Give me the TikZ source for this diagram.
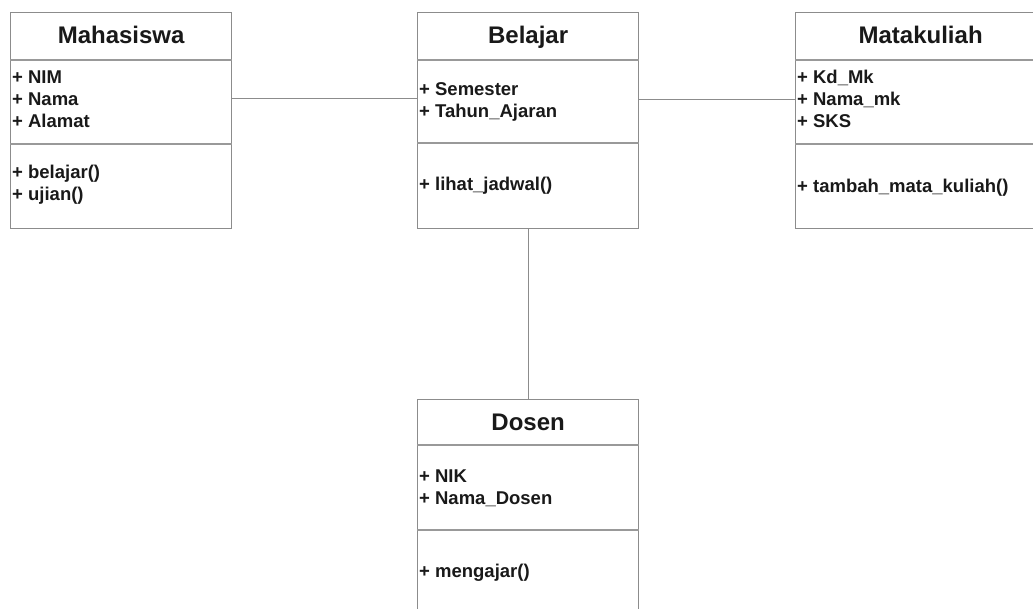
\documentclass[tikz,border=0pt]{standalone}
\usepackage{fontspec}
\setmainfont{Liberation Sans}
\usetikzlibrary{positioning}

\def\boxw{221}
\def\boxh{216}

\tikzset{
	classbox/.style={draw=black!45, line width=1.3pt, inner sep=0pt, minimum width=\boxw pt, minimum height=\boxh pt, anchor=north west},
	divider/.style={draw=black!40, line width=1.3pt},
	conn/.style={draw=black!45, line width=1.2pt},
	classname/.style={anchor=base, inner sep=0pt, text=black!90, font=\bfseries\fontsize{24}{28}\selectfont},
	member/.style={anchor=base west, inner sep=0pt, text=black!90, font=\bfseries\fontsize{18.5}{22}\selectfont},
}

\begin{document}
\begin{tikzpicture}[x=1pt, y=-1pt]

	\useasboundingbox (0,0) rectangle (1033,608);
	\clip (0,0) rectangle (1033,608);

	%%% Mahasiswa
	\node[classbox] (mhs) at (10,12) {};
	\draw[divider] (mhs.west |- 0,60) -- (mhs.east |- 0,60);
	\draw[divider] (mhs.west |- 0,144) -- (mhs.east |- 0,144);
	\node[classname] (mhs-name) at (mhs.north |- 0,43) {Mahasiswa};
	\node[member] (mhs-a1) at (12,83) {+ NIM};
	\node[member] (mhs-a2) at (12,105) {+ Nama};
	\node[member] (mhs-a3) at (12,127) {+ Alamat};
	\node[member] (mhs-m1) at (12,178) {+ belajar()};
	\node[member] (mhs-m2) at (12,200) {+ ujian()};

	%%% Belajar
	\node[classbox] (blj) at (417,12) {};
	\draw[divider] (blj.west |- 0,60) -- (blj.east |- 0,60);
	\draw[divider] (blj.west |- 0,143) -- (blj.east |- 0,143);
	\node[classname] (blj-name) at (blj.north |- 0,43) {Belajar};
	\node[member] (blj-a1) at (419,95) {+ Semester};
	\node[member] (blj-a2) at (419,117) {+ Tahun\_Ajaran};
	\node[member] (blj-m1) at (419,190) {+ lihat\_jadwal()};

	%%% Matakuliah
	\node[classbox, minimum width=250pt] (mk) at (795,12) {};
	\draw[divider] (mk.west |- 0,60) -- (mk.east |- 0,60);
	\draw[divider] (mk.west |- 0,144) -- (mk.east |- 0,144);
	\node[classname] (mk-name) at (mk.north |- 0,43) {Matakuliah};
	\node[member] (mk-a1) at (797,83) {+ Kd\_Mk};
	\node[member] (mk-a2) at (797,105) {+ Nama\_mk};
	\node[member] (mk-a3) at (797,127) {+ SKS};
	\node[member] (mk-m1) at (797,192) {+ tambah\_mata\_kuliah()};

	%%% Dosen
	\node[classbox, minimum height=260pt] (dsn) at (417,399) {};
	\draw[divider] (dsn.west |- 0,445) -- (dsn.east |- 0,445);
	\draw[divider] (dsn.west |- 0,530) -- (dsn.east |- 0,530);
	\node[classname] (dsn-name) at (dsn.north |- 0,430) {Dosen};
	\node[member] (dsn-a1) at (419,482) {+ NIK};
	\node[member] (dsn-a2) at (419,504) {+ Nama\_Dosen};
	\node[member] (dsn-m1) at (419,577) {+ mengajar()};

	%%% Associations
	\draw[conn] (mhs.east |- mhs-a2.west) -- (blj.west |- mhs-a2.west);
	\draw[conn] (blj.east |- mk-a2.west) -- (mk.west |- mk-a2.west);
	\draw[conn] (blj.south) -- (dsn.north);

\end{tikzpicture}
\end{document}
